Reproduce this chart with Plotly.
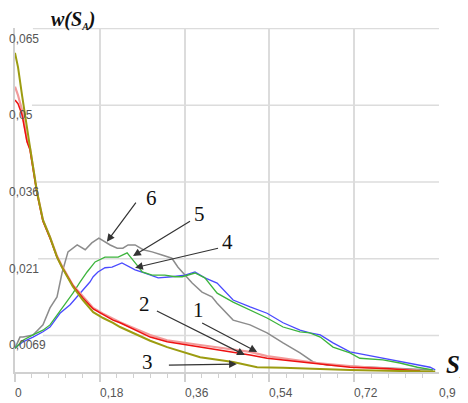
import plotly.graph_objects as go

# ---------------- data ----------------
x_c3 = [0, 0.0064, 0.0149, 0.0255, 0.0318, 0.0467, 0.0594, 0.0743, 0.0892, 0.0998, 0.123, 0.144,
        0.166, 0.187, 0.208, 0.223, 0.287, 0.323, 0.393, 0.463, 0.514, 0.569, 0.626, 0.711, 0.817, 0.892]
y_c3 = [0.0603, 0.0576, 0.0523, 0.0457, 0.0425, 0.0340, 0.0287, 0.0255, 0.0217, 0.0198, 0.0161, 0.0136,
        0.0113, 0.0102, 0.0093, 0.0085, 0.0059, 0.0047, 0.0028, 0.0019, 0.0009, 0.0008, 0.0006, 0.0004,
        0.0002, 0.0001]

x_c2 = [0, 0.0064, 0.0149, 0.0255, 0.0318, 0.0467, 0.0594, 0.0743, 0.0892, 0.0998, 0.123, 0.144,
        0.166, 0.187, 0.208, 0.223, 0.287, 0.323, 0.393, 0.463, 0.499, 0.535, 0.605, 0.641, 0.711,
        0.796, 0.860]
y_c2 = [0.0514, 0.0507, 0.0486, 0.0435, 0.0420, 0.0338, 0.0285, 0.0253, 0.0217, 0.0198, 0.0163, 0.0140,
        0.0119, 0.0108, 0.0098, 0.0093, 0.0066, 0.0057, 0.0047, 0.0038, 0.0032, 0.0026, 0.0019, 0.0015,
        0.0009, 0.0006, 0.0002]

x_c1 = x_c2
y_c1 = [0.0539, 0.0523, 0.0495, 0.0438, 0.0423, 0.0340, 0.0287, 0.0255, 0.0219, 0.0200, 0.0164, 0.0142,
        0.0121, 0.0110, 0.0100, 0.0094, 0.0070, 0.0060, 0.0051, 0.0042, 0.0038, 0.0030, 0.0021, 0.0017,
        0.0011, 0.0006, 0.0002]

x_c6 = [0, 0.0106, 0.017, 0.0382, 0.0594, 0.0743, 0.0892, 0.0998, 0.1125, 0.132, 0.149, 0.163, 0.178,
        0.191, 0.202, 0.217, 0.229, 0.240, 0.255, 0.272, 0.291, 0.312, 0.333, 0.346, 0.361, 0.376, 0.397,
        0.418, 0.429, 0.463, 0.499, 0.535, 0.569, 0.605, 0.633, 0.662, 0.711, 0.769, 0.817, 0.887]
y_c6 = [0.0045, 0.0066, 0.0066, 0.0070, 0.0089, 0.0121, 0.0142, 0.0187, 0.0227, 0.0240, 0.0231, 0.0244,
        0.0253, 0.0246, 0.0240, 0.0234, 0.0234, 0.0240, 0.0240, 0.0231, 0.0227, 0.0221, 0.0215, 0.0198,
        0.0183, 0.0168, 0.0151, 0.0142, 0.0130, 0.0098, 0.0089, 0.0074, 0.0055, 0.0036, 0.0019, 0.0013,
        0.0011, 0.0009, 0.0006, 0.0004]

x_c5 = [0, 0.017, 0.0382, 0.0594, 0.0743, 0.102, 0.123, 0.138, 0.153, 0.170, 0.191, 0.206, 0.219, 0.238,
        0.248, 0.259, 0.270, 0.291, 0.318, 0.340, 0.355, 0.382, 0.403, 0.429, 0.463, 0.499, 0.535, 0.569,
        0.605, 0.626, 0.648, 0.675, 0.711, 0.732, 0.781, 0.817, 0.854, 0.887]
y_c5 = [0.0045, 0.0060, 0.0070, 0.0079, 0.0089, 0.0123, 0.0149, 0.0170, 0.0189, 0.0208, 0.0217, 0.0217,
        0.0217, 0.0225, 0.0215, 0.0202, 0.0189, 0.0183, 0.0183, 0.0180, 0.0180, 0.0187, 0.0178, 0.0149,
        0.0132, 0.0117, 0.0102, 0.0085, 0.0076, 0.0074, 0.0066, 0.0047, 0.0036, 0.0026, 0.0023, 0.0017,
        0.0009, 0.0004]

x_c4 = [0, 0.017, 0.0382, 0.0594, 0.0743, 0.0955, 0.117, 0.138, 0.159, 0.166, 0.176, 0.191, 0.206, 0.227,
        0.240, 0.255, 0.276, 0.304, 0.333, 0.361, 0.382, 0.403, 0.429, 0.463, 0.499, 0.535, 0.569, 0.605,
        0.626, 0.648, 0.675, 0.711, 0.747, 0.781, 0.817, 0.854, 0.881, 0.892]
y_c4 = [0.0045, 0.0057, 0.0066, 0.0076, 0.0085, 0.0111, 0.0127, 0.0149, 0.0170, 0.0180, 0.0189, 0.0197,
        0.0198, 0.0206, 0.0200, 0.0193, 0.0187, 0.0178, 0.0180, 0.0183, 0.0189, 0.0178, 0.0168, 0.0136,
        0.0123, 0.0111, 0.0093, 0.0079, 0.0074, 0.0070, 0.0055, 0.0038, 0.0032, 0.0026, 0.0019, 0.0013,
        0.0009, 0.0004]

x_ticks = [0, 0.18, 0.36, 0.54, 0.72, 0.9]
x_labels = ["0", "0,18", "0,36", "0,54", "0,72", "0,9"]
x_minor = [0.036, 0.072, 0.108, 0.144, 0.216, 0.252, 0.288, 0.324, 0.396, 0.432, 0.468, 0.504,
           0.576, 0.612, 0.648, 0.684, 0.756, 0.792, 0.828, 0.864]
y_ticks = [0.0069, 0.0214, 0.0359, 0.0504, 0.0649]
y_labels = ["0,0069", "0,021", "0,036", "0,05", "0,065"]
y_grid_start = [0.059, 0.049, 0.047, 0.036, 0.038]

# curve labels: (text, text x, text y, arrow head x, head y, tail offset ax, ay)
curve_labels = [
    ("6", 0.289, 0.0329, 0.195, 0.0246, 31, -42),
    ("5", 0.391, 0.0299, 0.2505, 0.0219, 59, -36),
    ("4", 0.450, 0.0246, 0.2548, 0.0197, 85, -20),
    ("2", 0.274, 0.0128, 0.488, 0.0032, -90, -45),
    ("1", 0.389, 0.0117, 0.514, 0.0038, -57, -30),
    ("3", 0.282, 0.0019, 0.471, 0.0015, -70, 1),
]

# ---------------- figure ----------------
fig = go.Figure()
series = [
    (x_c6, y_c6, "#8c8c8c", 1.5),
    (x_c4, y_c4, "#4a4aff", 1.3),
    (x_c5, y_c5, "#3cb43c", 1.3),
    (x_c1, y_c1, "#f29a9a", 2.2),
    (x_c2, y_c2, "#ee1111", 1.5),
    (x_c3, y_c3, "#9c9c10", 2.0),
]
for xs, ys, col, w in series:
    fig.add_trace(go.Scatter(x=xs, y=ys, mode="lines", line=dict(color=col, width=w),
                             hoverinfo="skip", showlegend=False))

shapes = []
for yv, xs0 in zip(y_ticks, y_grid_start):
    shapes.append(dict(type="line", xref="x", yref="y", x0=xs0, x1=0.9, y0=yv, y1=yv,
                       line=dict(color="#dcdcdc", width=1.5), layer="below"))

annotations = []
for yv, lab in zip(y_ticks, y_labels):
    annotations.append(dict(x=0, y=yv, xref="x", yref="y", text=lab, showarrow=False,
                            xanchor="left", yanchor="top", xshift=-8, yshift=-1,
                            font=dict(family="Liberation Sans, Arial", size=12, color="#555555")))
for xv, lab in zip(x_ticks, x_labels):
    annotations.append(dict(x=xv, y=0, xref="x", yref="y", text=lab, showarrow=False,
                            xanchor="left", yanchor="top", xshift=-2, yshift=-12,
                            font=dict(family="Liberation Sans, Arial", size=12, color="#555555")))

for txt, tx, ty, hx, hy, ax, ay in curve_labels:
    annotations.append(dict(x=tx, y=ty, xref="x", yref="y", text=txt, showarrow=False,
                            font=dict(family="Liberation Serif, Times New Roman", size=21, color="#111111")))
    annotations.append(dict(x=hx, y=hy, xref="x", yref="y", text=" ", showarrow=True,
                            ax=ax, ay=ay, arrowhead=2, arrowsize=1.3, arrowwidth=1.2,
                            arrowcolor="#333333", standoff=0, font=dict(size=2)))

annotations.append(dict(x=0.136, y=1.024, xref="paper", yref="paper", borderpad=0,
                        text="<b><i>w(S<sub><span style='font-size:10px'>A</span></sub>)</i></b>",
                        showarrow=False, xanchor="center", yanchor="middle",
                        font=dict(family="Liberation Serif, Times New Roman", size=20, color="#111111")))
annotations.append(dict(x=1.0, y=0.02, xref="paper", yref="paper", xshift=5,
                        text="<b><i>S<sub><span style='font-size:8px'>A</span></sub></i></b>",
                        showarrow=False, xanchor="left", yanchor="middle",
                        font=dict(family="Liberation Serif, Times New Roman", size=25, color="#111111")))

# the page body has an 8px default margin: the figure is sized/margined to compensate
fig.update_layout(
    width=460, height=395,
    margin=dict(l=7, r=29, t=20, b=31, autoexpand=False),
    paper_bgcolor="white", plot_bgcolor="white",
    showlegend=False,
    shapes=shapes, annotations=annotations,
    xaxis=dict(range=[0, 0.9], tickvals=x_ticks[:-1], showticklabels=False,
               showgrid=True, gridcolor="#dcdcdc", gridwidth=1.5, zeroline=False,
               showline=True, linecolor="#d0d0d0", linewidth=1.5,
               ticks="outside", ticklen=8, tickcolor="#d0d0d0", tickwidth=1.5,
               minor=dict(tickvals=x_minor, ticks="outside", ticklen=4, tickcolor="#d0d0d0",
                          tickwidth=1, showgrid=False)),
    yaxis=dict(range=[0, 0.065], tickvals=y_ticks, showticklabels=False, showgrid=False,
               zeroline=False, showline=True, linecolor="#d0d0d0", linewidth=1.5, ticks=""),
)

fig.write_html("out.html")
